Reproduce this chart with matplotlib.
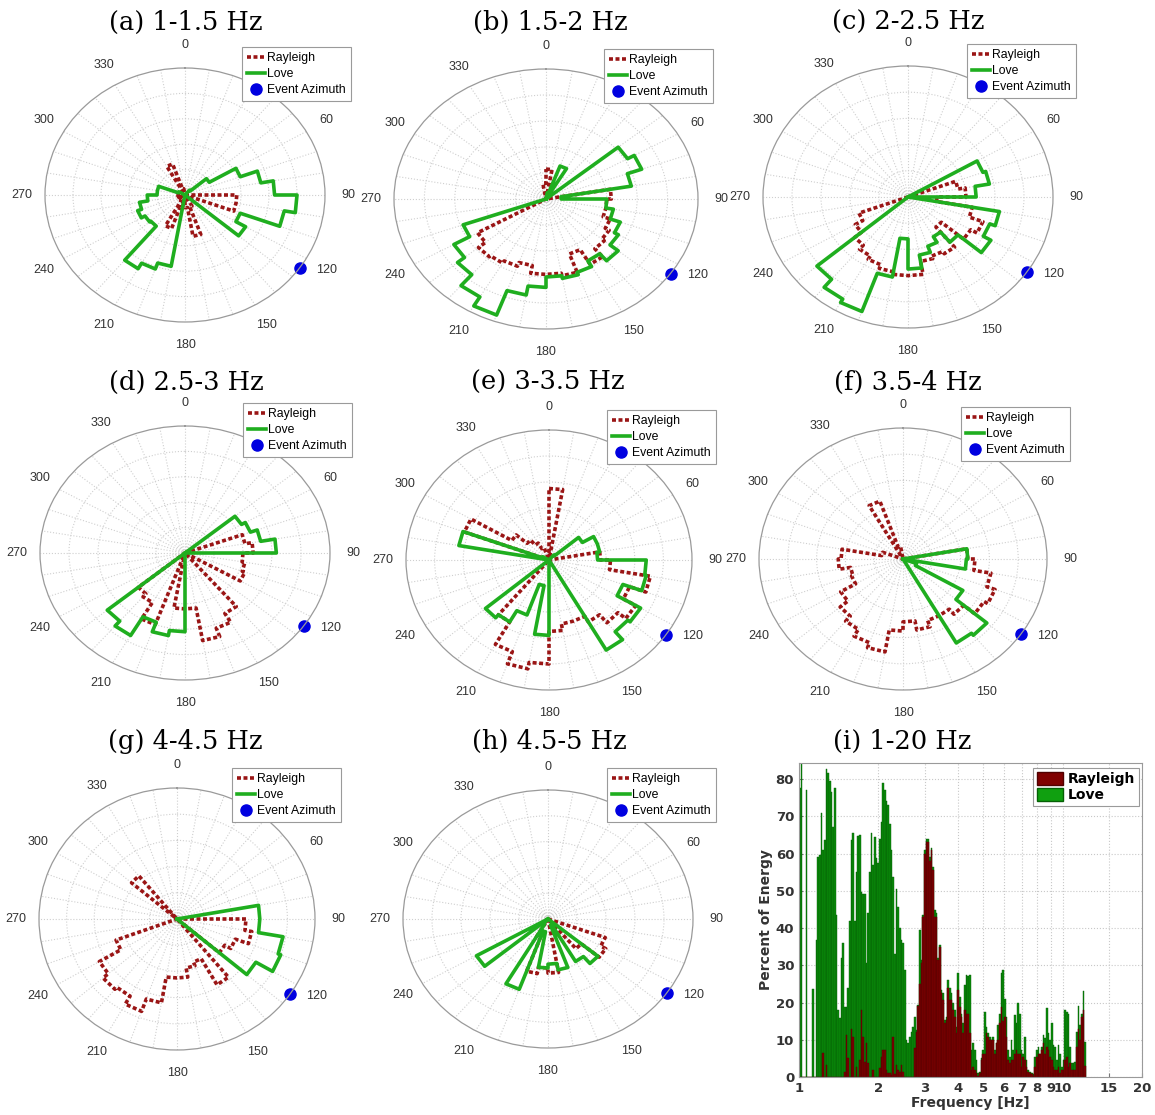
import numpy as np
import matplotlib
matplotlib.use("Agg")
import matplotlib.pyplot as plt
from matplotlib.patches import Patch

# rose values per 10 degree azimuth bin (0-10, 10-20, ... 350-360), as fraction of outer ring
love_a = [0, 0, 0, 0, .05, .2, .42, .55, .64, .8, .72, .42, .5, 0, 0, 0, 0, 0,
          0, .57, .62, .67, .32, .33, .36, .33, .27, .2, .2, .05, 0, 0, 0, 0, 0, 0]
ray_a = [0, 0, 0, 0, 0, 0, 0, 0, 0, .37, .37, .05, 0, 0, 0, .1, .33, .1,
         .05, .1, .28, .05, 0, 0, .06, 0, .05, 0, 0, 0, 0, 0, 0, .26, .05, 0]
love_b = [0, .05, .27, .05, 0, .62, .67, .57, .1, .40, .45, .52, .55, .62, .55, .6, .62, .6,
          .68, .75, .95, .87, .76, .7, .58, 0, 0, 0, 0, 0, 0, 0, 0, 0, 0, 0]
ray_b = [.23, 0, 0, 0, 0, 0, 0, 0, .43, .40, .40, .45, .48, .5, .58, .45, .6, .58,
         .58, .52, .55, .57, .58, .52, 0, 0, 0, 0, 0, 0, 0, 0, 0, 0, 0, .12]
love_c = [0, 0, 0, 0, 0, 0, .55, .57, .47, 0, .64, .6, .66, .45, .35, .4, .45, .55,
          .32, .62, .93, .9, .82, 0, 0, 0, 0, 0, 0, 0, 0, 0, 0, 0, 0, 0]
ray_c = [0, 0, 0, 0, 0, 0, 0, .35, .4, .2, .45, .55, .5, .3, .5, .48, .5, .6,
         .6, .58, .55, .52, .48, .42, .36, 0, 0, 0, 0, 0, 0, 0, 0, 0, 0, 0]
love_d = [0, 0, 0, 0, 0, .45, .48, .53, .63, 0, 0, 0, 0, 0, 0, 0, 0, 0,
          .62, .66, .58, .75, .7, 0, 0, 0, 0, 0, 0, 0, 0, 0, 0, 0, 0, 0]
ray_d = [0, 0, 0, 0, 0, 0, 0, .42, .47, .40, .42, .44, 0, 0, .55, .63, .70, .44,
         .44, 0, .6, .45, .42, 0, 0, 0, 0, 0, 0, 0, 0, 0, 0, 0, 0, 0]
love_e = [0, 0, 0, 0, .05, .27, .36, .36, .34, .68, .69, .55, .74, .72, .80, 0, 0, 0,
          .58, .2, .45, .55, .58, 0, 0, 0, 0, 0, .64, .05, 0, 0, 0, 0, 0, 0]
ray_e = [.55, 0, 0, 0, 0, 0, 0, 0, .36, .43, .72, .6, .7, .63, .55, .5, .5, .55,
         .8, .85, .75, .55, 0, 0, 0, 0, 0, 0, 0, .63, .3, .2, .15, .1, 0, 0]
love_f = [0, 0, 0, 0, 0, 0, 0, 0, .45, .44, 0, .1, .48, .76, .74, 0, 0, 0,
          0, 0, 0, 0, 0, 0, 0, 0, 0, 0, 0, 0, 0, 0, 0, 0, 0, 0]
ray_f = [0, 0, 0, 0, 0, 0, 0, 0, .45, .5, .62, .68, .65, .55, .5, .5, .55, .48,
         .55, .72, .68, .62, .57, .5, .38, .37, .45, .43, .15, 0, 0, 0, 0, .47, .1, 0]
love_g = [0, 0, 0, 0, 0, 0, 0, 0, .6, .6, .78, .8, .66, 0, 0, 0, 0, 0,
          0, 0, 0, 0, 0, 0, 0, 0, 0, 0, 0, 0, 0, 0, 0, 0, 0, 0]
ray_g = [0, 0, 0, 0, 0, 0, 0, 0, 0, .5, .55, .45, .4, 0, .58, .35, .38, .45,
         .45, .65, .75, .68, .7, .65, .47, 0, 0, 0, 0, 0, 0, .43, 0, 0, 0, 0]
love_h = [0, 0, 0, 0, 0, 0, 0, 0, 0, 0, 0, 0, 0, .45, .38, .05, .40, .35,
          .38, .1, .58, .05, 0, .57, 0, 0, 0, 0, 0, 0, 0, 0, 0, 0, 0, 0]
ray_h = [0, 0, 0, 0, 0, 0, 0, 0, 0, 0, 0, .42, .46, .3, 0, 0, 0, .42,
         .38, .43, .16, 0, 0, 0, 0, 0, 0, 0, 0, 0, 0, 0, 0, 0, 0, 0]

titles = ["(a) 1-1.5 Hz", "(b) 1.5-2 Hz", "(c) 2-2.5 Hz", "(d) 2.5-3 Hz",
          "(e) 3-3.5 Hz", "(f) 3.5-4 Hz", "(g) 4-4.5 Hz", "(h) 4.5-5 Hz", "(i) 1-20 Hz"]
event_az = 125

# (i) percent of energy, thin log-spaced frequency bins from 1 Hz to ~12.3 Hz
love_pct = [77.5, 85, 0, 0, 77, 0, 0, 0, 23.6, 0, 36.7, 59, 59.5, 70.8, 61, 63.5, 82.8, 81.5,
            79.6, 76.4, 67, 77.7, 43.4, 18, 15.8, 32, 36, 18.8, 18.8, 23.8, 42, 63.6, 65.6, 42,
            55, 64.7, 65, 49.6, 49, 49, 30.5, 44, 55, 65.4, 56.8, 64.4, 58.7, 57.4, 64, 68.4, 78.8,
            77, 74, 73, 68, 61, 53.8, 33, 50.6, 45.7, 40, 36.7, 36, 28.7, 10, 9, 10.8, 12,
            13.4, 16, 12.6, 19.3, 39.4, 31.4, 43.4, 61, 64, 64, 59, 61.4, 56.3, 44.8, 44, 32,
            35.4, 23.3, 22.5, 15.3, 16, 26, 24, 22.5, 19.8, 18, 13.4, 27.8, 21.5, 17, 14.5, 24.7,
            27.4, 27,
            27.4, 7.2, 9, 7.2, 4.6, 1.1, 1.4, 5, 7.2, 17.5, 13.4, 11.7, 10.8, 10, 10.8, 7.2, 9,
            14, 17, 28, 28.7, 21, 16, 7.2, 5.4, 10, 7.2, 16.6, 14.5, 19.8, 17, 7.2, 6.3, 10.8,
            4.6, 1.8, 1.4, 1.1, 0.8, 5.4, 7.2, 8.1, 6.3, 8.1, 11.3, 10.4, 18.5, 11.7, 10, 14.5,
            8.5, 8.1, 4.6, 8.5, 6.3, 2.7, 4.6, 18, 17.5, 17, 8, 3.7, 3.7,
            4, 12, 19, 14, 17, 23, 9.5]
ray_pct = [0, 0, 0, 0, 0, 0, 0, 0, 0, 0, 0, 0, 0, 0, 6.4, 0, 3.2, 0,
           0, 0, 0, 0, 0, 0, 0, 0, 0, 1.4, 11.3, 5, 0, 13, 10.7, 0, 2.7, 0,
           4.5, 18, 10.7, 4, 9, 3.7, 0, 0, 1.8, 0, 0, 0, 2.5, 5.4, 7.2,
           7.2, 1.8, 1, 1, 0.5, 10.8, 0.7, 3.2, 2, 1.4, 3.2, 1.4, 0, 0, 0, 0, 0,
           0, 7.7, 12, 19, 25, 30.5, 43, 60, 63, 63, 58, 61, 55.5, 43, 43, 31.4, 35,
           22.5, 20.6, 14.5, 15.3, 24, 20.6, 20.6, 18, 16, 11.7, 23.3, 18.8, 16, 11.7, 18,
           17, 17,
           11.7, 1.8, 2.7, 1.8, 1, 0.3, 1, 4.6, 6.3, 6.3, 11.7, 10.8, 10, 10, 10, 6.3, 9, 10,
           14.5, 18.8, 15, 16, 10.8, 4.6, 3.7, 4.6, 4.6, 6.3, 7.2, 6.3, 6.3, 2.7, 5.4, 4.6,
           2.7, 1.4, 1, 0.7, 0.4, 2.7, 5.4, 6.3, 6.3, 7.2, 9, 6.3, 8, 7.2, 5.4, 4.6, 2.7,
           1.8, 1.8, 2.7, 1, 1.8, 1.8, 4.6, 5.4, 2.7, 3.7, 1.8, 1.8,
           2, 8, 13, 10, 16, 18, 3]
freq_ticks = [1, 2, 3, 4, 5, 6, 7, 8, 9, 10, 15, 20]
freq_labels = ["1", "2", "3", "4", "5", "6", "7", "8", "9", "10", "15", "20"]

W, H = 1155, 1115
# pixel layout: polar centre x, centre y, radius x, radius y
polar_box = [(185, 195, 140, 127), (546, 199, 152, 130), (908, 197, 145, 131),
             (185, 553, 145, 127), (549, 560, 143, 130), (903, 559, 144, 131),
             (177, 919, 138, 131), (548, 919, 145, 129)]
title_xy = [(186, 22), (550, 22), (908, 22), (186, 382), (548, 382), (908, 382),
            (185, 741), (549, 741), (902, 741)]
legend_xy = [(242, 47), (604, 49), (967, 44), (243, 403), (607, 410), (961, 407),
             (232, 768), (607, 768)]

ray_col = "#9a1515"
love_col = "#1fae1f"
sans = ["Liberation Sans", "DejaVu Sans"]

fig = plt.figure(figsize=(W / 100, H / 100), dpi=100)


def rose(vals):
    # outline of the rose: arc at each bin's radius, radial steps between bins
    th, r = [], []
    for i, v in enumerate(vals):
        th += [np.deg2rad(10 * i), np.deg2rad(10 * (i + 1))]
        r += [v, v]
    th.append(th[0])
    r.append(r[0])
    return th, r


loves = [love_a, love_b, love_c, love_d, love_e, love_f, love_g, love_h]
rays = [ray_a, ray_b, ray_c, ray_d, ray_e, ray_f, ray_g, ray_h]

for k in range(8):
    cx, cy, rx, ry = polar_box[k]
    ax = fig.add_axes([(cx - rx) / W, 1 - (cy + ry) / H, 2 * rx / W, 2 * ry / H],
                      projection="polar")
    ax.set_aspect("auto")
    ax.set_theta_zero_location("N")
    ax.set_theta_direction(-1)
    ax.set_ylim(0, 1)
    ax.set_yticks([0.2, 0.4, 0.6, 0.8])
    ax.set_yticklabels([])
    angs = np.arange(0, 360, 10)
    ax.set_xticks(np.deg2rad(angs))
    # the 30 label sits under the legend in the original
    ax.set_xticklabels([str(a) if a % 30 == 0 and a != 30 else "" for a in angs],
                       fontsize=9, family=sans, color="#333333")
    ax.tick_params(axis="x", pad=6)
    ax.grid(True, color="#cfcfcf", linestyle=":", linewidth=0.8)
    ax.spines["polar"].set_color("#9a9a9a")
    ax.spines["polar"].set_linewidth(0.9)

    th, r = rose(rays[k])
    l1, = ax.plot(th, r, color=ray_col, lw=2.6, ls=(0, (1.1, 0.7)), label="Rayleigh")
    th, r = rose(loves[k])
    l2, = ax.plot(th, r, color=love_col, lw=2.6, label="Love")
    l3, = ax.plot([np.deg2rad(event_az)], [1.0], "o", color="#0000e0", ms=8,
                  clip_on=False, label="Event Azimuth")

    lx, ly = legend_xy[k]
    leg = ax.legend(handles=[l1, l2, l3], loc="upper left",
                    bbox_to_anchor=(lx / W, 1 - ly / H), bbox_transform=fig.transFigure,
                    borderaxespad=0, fancybox=False, framealpha=1, edgecolor="#9a9a9a",
                    prop={"family": sans, "size": 8.8}, handlelength=1.5,
                    handletextpad=0.15, labelspacing=0.35, borderpad=0.4)
    leg.get_frame().set_linewidth(0.8)

for k in range(9):
    x, y = title_xy[k]
    fig.text(x / W, 1 - y / H, titles[k], ha="center", va="center",
             fontsize=18.5, family="DejaVu Serif")

# (i) energy spectrum
axb = fig.add_axes([799 / W, 1 - 1077 / H, (1142 - 799) / W, (1077 - 763) / H])
edges = np.geomspace(1.0, 12.25, len(love_pct) + 1)
axb.bar(edges[:-1], love_pct, width=np.diff(edges), align="edge",
        color="#0a8c0a", edgecolor="#055a05", linewidth=0.3, label="Love")
axb.bar(edges[:-1], ray_pct, width=np.diff(edges), align="edge",
        color="#7c0000", edgecolor="#500000", linewidth=0.3, label="Rayleigh")
axb.set_xscale("log")
axb.set_xlim(1, 20)
axb.set_ylim(0, 84.3)
axb.set_xticks(freq_ticks)
axb.set_xticklabels(freq_labels)
axb.xaxis.set_minor_locator(matplotlib.ticker.NullLocator())
axb.set_yticks(range(0, 81, 10))
axb.tick_params(direction="in", labelsize=9.5, length=3, color="#777777")
for lab in axb.get_xticklabels() + axb.get_yticklabels():
    lab.set_fontweight("bold")
    lab.set_color("#333333")
axb.grid(True, color="#c8c8c8", linestyle=":", linewidth=0.8)
axb.set_axisbelow(True)
for s in axb.spines.values():
    s.set_color("#9a9a9a")
axb.set_xlabel("Frequency [Hz]", fontsize=10, fontweight="bold", labelpad=1, color="#333333")
axb.set_ylabel("Percent of Energy", fontsize=10, fontweight="bold", labelpad=2, color="#333333")
hb = [Patch(facecolor="#800000", edgecolor="#500000"), Patch(facecolor="#10a010", edgecolor="#056005")]
legb = axb.legend(hb, ["Rayleigh", "Love"], loc="upper right",
                  bbox_to_anchor=(1139 / W, 1 - 768 / H), bbox_transform=fig.transFigure,
                  borderaxespad=0, fancybox=False, framealpha=1, edgecolor="#9a9a9a",
                  prop={"weight": "bold", "size": 10}, handlelength=1.9, handleheight=1.0,
                  handletextpad=0.3, labelspacing=0.15, borderpad=0.3)
legb.get_frame().set_linewidth(0.8)

fig.savefig("out.png", dpi=100)
